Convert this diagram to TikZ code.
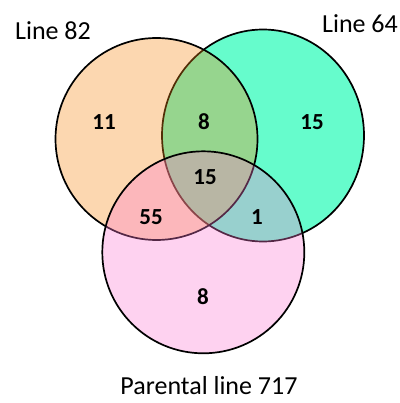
\documentclass[tikz,border=0pt]{standalone}
\usepackage{fontspec}
\setmainfont{Carlito}
\usepackage{tikz}
\usepackage{xcolor}
\usetikzlibrary{positioning}

\definecolor{setright}{RGB}{102,252,204}
\definecolor{setleft}{RGB}{246,135,18}
\definecolor{setbottom}{RGB}{252,120,210}

\tikzset{
    setline/.style={draw=black, line width=1.7pt},
    setlabel/.style={font=\fontsize{26}{30}\selectfont, inner sep=0pt},
    count/.style={font=\fontsize{23}{27}\selectfont\bfseries, inner sep=0pt}
}

\begin{document}
\begin{tikzpicture}[x=1pt, y=-1pt]
        \useasboundingbox (0,0) rectangle (399,403);

        % the three sets
        \draw[setline, fill=setright] (263,135.5) ellipse [x radius=101, y radius=106];
        \draw[setline, fill=setleft, fill opacity=0.333] (156.5,139) circle [radius=101];
        \draw[setline, fill=setbottom, fill opacity=0.333] (203.3,252.3) circle [radius=101];

        % set names
        \node[setlabel] (l82) at (53,31) {Line 82};
        \node[setlabel] (l64) at (360,24) {Line 64};
        \node[setlabel] (p717) at (209,386) {Parental line 717};

        % counts
        \node[count] (onlyl82) at (104,122) {11};
        \node[count] (l82l64) at (204,122) {8};
        \node[count] (onlyl64) at (312,122) {15};
        \node[count] (all) at (205,177) {15};
        \node[count] (l82p) at (151,217) {55};
        \node[count] (l64p) at (257,217) {1};
        \node[count] (onlyp) at (203,297) {8};
    \end{tikzpicture}
\end{document}
